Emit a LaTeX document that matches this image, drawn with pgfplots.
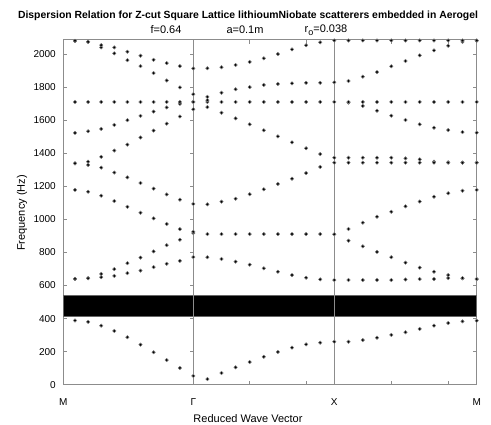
\documentclass[border=0pt]{standalone}
\usepackage{pgfplots}
\pgfplotsset{compat=1.18}
\usepackage{pgfplotstable}
\usepackage{fontspec}
\setmainfont{Liberation Sans}

% M -> Gamma
\pgfplotstableread{
x L1 H G F E D C Fl B A
11.7 388 640 640 1178 1339 1339 1523 1710 2080 2080
24.8 380 644 644 1167 1329 1349 1533 1710 2074 2074
37.9 357 650 670 1143 1313 1378 1547 1710 2040 2054
51.0 325 658 699 1111 1283 1416 1571 1710 2004 2040
64.1 287 675 735 1076 1254 1452 1600 1710 1963 2014
77.2 242 690 769 1040 1220 1495 1626 1710 1927 1990
90.3 196 711 806 1006 1186 1537 1652 1710 1885 1965
103.4 149 731 844 972 1151 1579 1677 1710 1840 1945
116.6 101 749 877 941 1119 1622 1699 1710 1798 1927
130.0 53 772 917 925 1093 1666 1710 1710 1757 1913
}\tabMG

% Gamma -> X
\pgfplotstableread{
x L1 Fa Fl R Fb Fm B T
144.1 34 771 911 1091 1679 1710 1741 1914
158.2 71 760 911 1107 1645 1710 1766 1920
172.3 105 744 911 1125 1611 1710 1787 1934
186.4 137 726 911 1152 1575 1710 1800 1952
200.5 169 704 911 1182 1539 1710 1813 1974
214.6 198 683 911 1214 1502 1710 1819 2000
228.7 224 663 911 1246 1466 1710 1823 2028
242.8 244 647 911 1280 1430 1710 1826 2053
256.9 254 637 911 1317 1395 1710 1826 2071
271.0 260 633 910 1343 1373 1710 1829 2082
}\tabGX

% X -> M
\pgfplotstableread{
x L1 Fl Fa R P Q Fb Fm Rb T
285.2 260 633 871 942 1373 1343 1706 1710 1837 2082
299.5 270 633 837 980 1373 1343 1686 1710 1863 2082
313.7 284 633 803 1016 1373 1343 1657 1710 1891 2082
328.0 301 633 771 1046 1373 1343 1627 1710 1926 2082
342.2 317 636 738 1079 1369 1343 1601 1710 1958 2082
356.4 337 639 708 1108 1363 1343 1575 1710 1992 2082
370.7 357 639 683 1137 1349 1343 1554 1710 2022 2082
384.9 373 645 663 1158 1345 1343 1540 1710 2050 2082
399.2 383 643 645 1173 1343 1343 1528 1710 2074 2082
413.4 387 639 639 1178 1343 1343 1524 1710 2080 2082
}\tabXM

\pgfplotsset{dots/.style={only marks, mark=*, mark size=1.7pt,
  mark options={fill=black, draw=black!50, line width=0.5pt}}}

\begin{document}
\begin{tikzpicture}[x=1pt,y=1pt]
\useasboundingbox (0,0) rectangle (491,425);
\begin{axis}[
  at={(63.3pt,40.3pt)}, anchor=south west,
  scale only axis, width=413.4pt, height=344.7pt,
  xmin=0, xmax=413.4, ymin=0, ymax=2085,
  clip=false,
  xtick={0,130,186.4,242.8,271,328,384.9,413.4},
  xticklabels={M,Γ,,,X,,,M},
  ytick={0,200,...,2000},
  tick align=inside,
  major tick length=4pt,
  axis line style={black!45, line width=1pt},
  every tick/.style={black!45, line width=0.6pt},
  ticklabel style={font=\fontsize{10}{12}\selectfont, text=black},
  xticklabel style={yshift=-10pt},
  yticklabel style={xshift=-4pt},
  /pgf/number format/assume math mode=true,
  scaled y ticks=false,
  yticklabel={\pgfmathprintnumber[fixed,1000 sep={}]{\tick}},
]
\addplot[fill=black, draw=black!60, line width=0.5pt] coordinates {(0,411) (413.4,411) (413.4,542) (0,542)} --cycle;
\draw[black!45, line width=1pt] (axis cs:130,0) -- (axis cs:130,2085);
\draw[black!45, line width=1pt] (axis cs:271,0) -- (axis cs:271,2085);
\pgfplotsinvokeforeach{200,400,...,2000}{\draw[black!45, line width=0.6pt] (axis cs:130,#1) -- ++(-3pt,0pt);}
\pgfplotsinvokeforeach{L1,H,G,F,E,D,C,Fl,B,A}{\addplot[dots] table[x=x,y=#1]{\tabMG};}
\pgfplotsinvokeforeach{L1,Fa,Fl,R,Fb,Fm,B,T}{\addplot[dots] table[x=x,y=#1]{\tabGX};}
\addplot[dots] coordinates {(144.1,1721)};
\pgfplotsinvokeforeach{L1,Fl,Fa,R,P,Q,Fb,Fm,Rb,T}{\addplot[dots] table[x=x,y=#1]{\tabXM};}
\end{axis}
\node[font=\fontsize{10.4}{12}\bfseries\selectfont] at (248,409) {Dispersion Relation for Z-cut Square Lattice lithioumNiobate scatterers embedded in Aerogel};
\node[font=\fontsize{11}{13}\selectfont] at (166,395) {f=0.64};
\node[font=\fontsize{11}{13}\selectfont] at (245,395) {a=0.1m};
\node[font=\fontsize{11}{13}\selectfont] at (326,395) {r\raisebox{-3pt}{\fontsize{9}{10}\selectfont o}=0.038};
\node[font=\fontsize{11}{13}\selectfont] at (248,6) {Reduced Wave Vector};
\node[font=\fontsize{11}{13}\selectfont, rotate=90] at (22,212) {Frequency (Hz)};
\end{tikzpicture}
\end{document}
